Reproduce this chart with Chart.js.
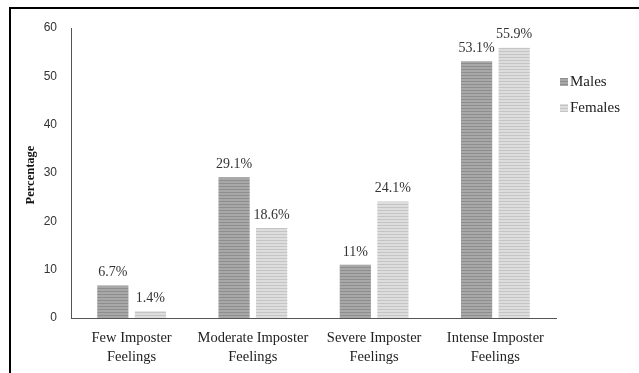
<!DOCTYPE html>
<html><head><meta charset="utf-8">
<script src="https://cdn.jsdelivr.net/npm/chart.js@4/dist/chart.umd.min.js"></script>
<style>
html,body{margin:0;padding:0;background:#fff;}
#wrap{position:relative;width:639px;height:373px;overflow:hidden;}
#c{position:absolute;left:0;top:0;}
#frame{position:absolute;left:9px;top:7px;width:700px;height:400px;border-top:2px solid #000;border-left:2px solid #000;pointer-events:none;}
</style></head>
<body>
<div id="wrap"><canvas id="c" width="639" height="373"></canvas><div id="frame"></div></div>
<script>
const categories = [["Few Imposter","Feelings"],["Moderate Imposter","Feelings"],["Severe Imposter","Feelings"],["Intense Imposter","Feelings"]];
const males = [6.7, 29.1, 11, 53.1];
const females = [1.4, 18.6, 24.1, 55.9];
const seriesNames = ["Males","Females"];
const yTicks = [0,10,20,30,40,50,60];

const SERIF = "'Liberation Serif', 'DejaVu Serif', serif";
function stripe(dark, light){
  const p = document.createElement('canvas'); p.width = 4; p.height = 3;
  const g = p.getContext('2d');
  g.fillStyle = light; g.fillRect(0,0,4,3);
  g.fillStyle = dark; g.fillRect(0,0,4,1);
  return document.getElementById('c').getContext('2d').createPattern(p,'repeat');
}
const maleFill = stripe('#8e8e8e','#a8a8a8');
const femFill = stripe('#c4c4c4','#dddddd');

const labelPlugin = {
  id:'labels',
  afterDatasetsDraw(chart){
    const ctx = chart.ctx;
    ctx.save();
    ctx.font = "14px " + SERIF;
    ctx.fillStyle = '#333';
    ctx.textAlign = 'center';
    ctx.textBaseline = 'bottom';
    chart.data.datasets.forEach((ds,i)=>{
      chart.getDatasetMeta(i).data.forEach((bar,j)=>{
        ctx.fillText(ds.data[j] + '%', bar.x, bar.y - 6);
      });
    });
    // legend
    const lx = 560;
    chart.data.datasets.forEach((ds,i)=>{
      const y = 82 + i*26;
      ctx.fillStyle = ds.backgroundColor;
      ctx.fillRect(lx, y-4, 8, 8);
      ctx.fillStyle = '#222';
      ctx.textAlign = 'left';
      ctx.textBaseline = 'middle';
      ctx.font = "15px " + SERIF;
      ctx.fillText(ds.label, lx + 10, y);
    });
    // y title
    ctx.save();
    ctx.translate(31, 175);
    ctx.rotate(-Math.PI/2);
    ctx.font = "bold 12.5px " + SERIF;
    ctx.fillStyle = '#111';
    ctx.textAlign = 'center';
    ctx.textBaseline = 'middle';
    ctx.fillText('Percentage', 0, 0);
    ctx.restore();
    ctx.restore();
  }
};

new Chart(document.getElementById('c'), {
  type:'bar',
  data:{
    labels: categories,
    datasets:[
      {label:seriesNames[0], data:males, backgroundColor:maleFill},
      {label:seriesNames[1], data:females, backgroundColor:femFill}
    ]
  },
  options:{
    responsive:false, animation:false,
    layout:{padding:{top:28, right:83, left:0, bottom:0}},
    categoryPercentage:0.62, barPercentage:0.83,
    plugins:{legend:{display:false}, tooltip:{enabled:false}},
    scales:{
      x:{
        grid:{display:false, drawTicks:false},
        border:{color:'#555', width:1},
        ticks:{font:{family:SERIF,size:14.5, lineHeight:1.3}, color:'#222', padding:11, maxRotation:0, autoSkip:false},
        afterFit(s){ s.height = 55; }
      },
      y:{
        min:0, max:60,
        grid:{display:false, drawTicks:false},
        border:{color:'#555', width:1},
        afterBuildTicks(s){ s.ticks = yTicks.map(v=>({value:v})); },
        ticks:{font:{family:"'Liberation Sans', sans-serif", size:12}, color:'#333', padding:14},
        afterFit(s){ s.width = 71; }
      }
    }
  },
  plugins:[labelPlugin]
});
</script>
</body></html>
